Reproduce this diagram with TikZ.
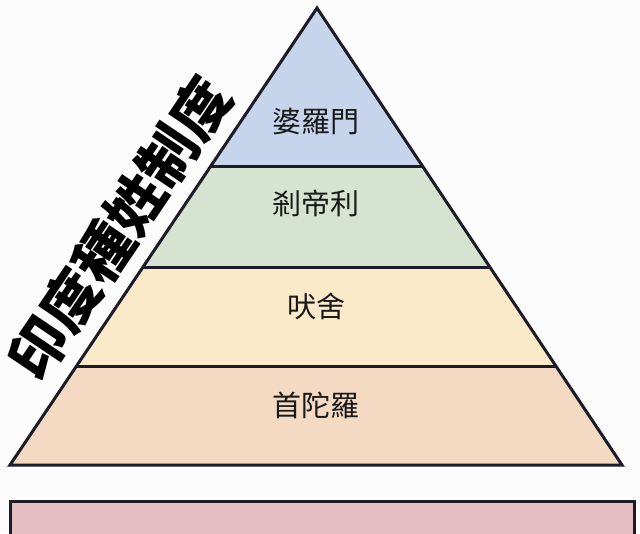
\documentclass[tikz,border=0pt]{standalone}
\usepackage{fontspec}
\newfontfamily\cjk{Noto Sans CJK TC}
\definecolor{bgc}{HTML}{FCFCFD}
\definecolor{edge}{HTML}{1C1B26}
\definecolor{lblue}{HTML}{C6D4EC}
\definecolor{lgreen}{HTML}{D5E3D0}
\definecolor{lyellow}{HTML}{FAEACA}
\definecolor{lorange}{HTML}{F5DAC3}
\definecolor{lpink}{HTML}{E4BEC3}
\tikzset{
  layerfill/.style={draw=none},
  sep/.style={draw=edge, line width=3pt},
  outline/.style={draw=edge, line width=3pt, line join=miter},
  lbl/.style={font=\cjk\fontsize{29}{29}\selectfont, text=black!90},
  titletext/.style={font=\cjk\bfseries\fontsize{58}{58}\selectfont, text=black, rotate=56}
}
\begin{document}
\begin{tikzpicture}[x=1pt,y=-1pt]
\useasboundingbox (0,0) rectangle (640,533);
\clip (0,0) rectangle (640,533);
\fill[bgc] (0,0) rectangle (640,533);
% corners
\coordinate (apex) at (317,8);
\coordinate (l1) at (210.9,166); \coordinate (r1) at (422.4,166);
\coordinate (l2) at (143.0,267); \coordinate (r2) at (489.9,267);
\coordinate (l3) at (76.5,366);  \coordinate (r3) at (555.9,366);
\coordinate (l4) at (10,465);    \coordinate (r4) at (622,465);
% layers
\fill[lblue] (apex) -- (l1) -- (r1) -- cycle;
\fill[lgreen] (l1) -- (l2) -- (r2) -- (r1) -- cycle;
\fill[lyellow] (l2) -- (l3) -- (r3) -- (r2) -- cycle;
\fill[lorange] (l3) -- (l4) -- (r4) -- (r3) -- cycle;
\draw[sep] (l1) -- (r1);
\draw[sep] (l2) -- (r2);
\draw[sep] (l3) -- (r3);
\draw[outline] (apex) -- (l4) -- (r4) -- cycle;
% bottom box
\draw[outline, fill=lpink] (10,501) rectangle (634,560);
% labels
\node[lbl] (brahmin) at (316,121) {婆羅門};
\node[lbl] (kshatriya) at (316,203) {剎帝利};
\node[lbl] (vaishya) at (316,306) {吠舍};
\node[lbl] (shudra) at (316,405) {首陀羅};
% title
\node[titletext] (title) at (119,228) {印度種姓制度};
\end{tikzpicture}
\end{document}
